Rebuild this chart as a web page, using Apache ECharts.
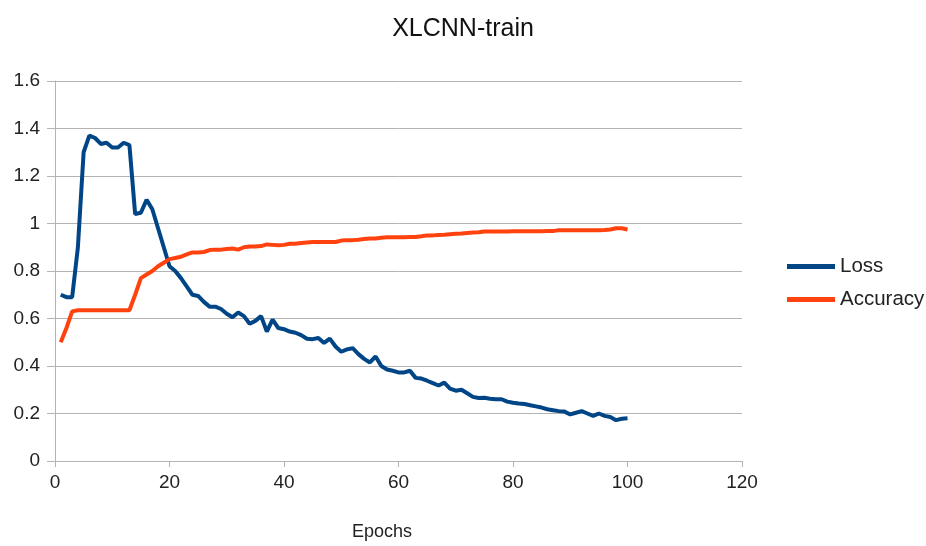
<!DOCTYPE html>
<html>
<head>
<meta charset="utf-8">
<script src="https://cdn.jsdelivr.net/npm/echarts@6/dist/echarts.min.js"></script>
<style>
  html, body { margin: 0; padding: 0; background: #fff; }
  #chart { width: 926px; height: 546px; }
</style>
</head>
<body>
<div id="chart"></div>
<script>
// epochs 1..100
const epochs = Array.from({ length: 100 }, (_, i) => i + 1);

const loss = [
  0.70, 0.69, 0.69, 0.90, 1.30, 1.37, 1.36, 1.335, 1.34, 1.32,
  1.32, 1.34, 1.33, 1.04, 1.045, 1.10, 1.06, 0.98, 0.90, 0.82,
  0.80, 0.77, 0.735, 0.70, 0.695, 0.67, 0.65, 0.65, 0.64, 0.62,
  0.605, 0.625, 0.61, 0.578, 0.59, 0.61, 0.545, 0.595, 0.56, 0.555,
  0.545, 0.54, 0.53, 0.515, 0.513, 0.518, 0.497, 0.515, 0.482, 0.46,
  0.47, 0.475, 0.45, 0.43, 0.415, 0.44, 0.40, 0.385, 0.38, 0.373,
  0.373, 0.38, 0.35, 0.347, 0.338, 0.328, 0.318, 0.33, 0.305, 0.296,
  0.30, 0.285, 0.27, 0.265, 0.266, 0.262, 0.26, 0.26, 0.25, 0.245,
  0.242, 0.24, 0.235, 0.23, 0.225, 0.218, 0.214, 0.21, 0.208, 0.196,
  0.203, 0.21, 0.20, 0.19, 0.20, 0.19, 0.185, 0.172, 0.178, 0.18
];

const accuracy = [
  0.50, 0.56, 0.63, 0.635, 0.635, 0.635, 0.635, 0.635, 0.635, 0.635,
  0.635, 0.635, 0.635, 0.70, 0.77, 0.785, 0.80, 0.82, 0.835, 0.85,
  0.855, 0.86, 0.87, 0.878, 0.878, 0.88, 0.888, 0.89, 0.89, 0.893,
  0.895, 0.89, 0.90, 0.903, 0.903, 0.905, 0.912, 0.91, 0.908, 0.91,
  0.915, 0.915, 0.918, 0.92, 0.922, 0.922, 0.922, 0.922, 0.922, 0.928,
  0.93, 0.93, 0.932, 0.935, 0.937, 0.937, 0.94, 0.942, 0.942, 0.942,
  0.942, 0.943, 0.943, 0.946, 0.95, 0.95, 0.952, 0.953, 0.955, 0.957,
  0.958, 0.96, 0.962, 0.963, 0.966, 0.966, 0.966, 0.966, 0.966, 0.967,
  0.967, 0.967, 0.967, 0.967, 0.967, 0.968, 0.968, 0.972, 0.972, 0.972,
  0.972, 0.972, 0.972, 0.972, 0.972, 0.973, 0.975, 0.98, 0.98, 0.975
];

const xTicks = { min: 0, max: 120, interval: 20 };
const yTicks = { min: 0, max: 1.6, interval: 0.2 };

const chart = echarts.init(document.getElementById('chart'));
const fontFamily = '"Liberation Sans", Arial, sans-serif';
const gridColor = '#b3b3b3';
const textColor = '#222';

chart.setOption({
  backgroundColor: '#fff',
  animation: false,
  textStyle: { fontFamily },
  title: {
    text: 'XLCNN-train',
    left: 'center',
    top: 12,
    textStyle: { fontSize: 25, fontWeight: 'normal', color: '#111', fontFamily }
  },
  graphic: [{
    type: 'text',
    left: 352,
    top: 523,
    style: { text: 'Epochs', fontSize: 18, fill: textColor, fontFamily }
  }],
  legend: {
    orient: 'vertical',
    left: 782,
    top: 251,
    itemWidth: 48,
    itemHeight: 5,
    itemGap: 12,
    icon: 'rect',
    textStyle: { fontSize: 20.5, color: textColor, fontFamily },
    data: ['Loss', 'Accuracy']
  },
  grid: { left: 55, right: 184, top: 81, bottom: 85 },
  xAxis: {
    type: 'value',
    min: xTicks.min,
    max: xTicks.max,
    interval: xTicks.interval,
    axisLine: { show: true, lineStyle: { color: gridColor } },
    axisTick: { show: true, length: 6, lineStyle: { color: gridColor } },
    axisLabel: { fontSize: 19, color: textColor, margin: 12 },
    splitLine: { show: false }
  },
  yAxis: {
    type: 'value',
    min: yTicks.min,
    max: yTicks.max,
    interval: yTicks.interval,
    axisLine: { show: true, lineStyle: { color: gridColor } },
    axisTick: { show: true, length: 8, lineStyle: { color: gridColor } },
    axisLabel: {
      fontSize: 19,
      color: textColor,
      margin: 15,
      formatter: v => String(Math.round(v * 10) / 10)
    },
    splitLine: { show: true, lineStyle: { color: gridColor, width: 1 } }
  },
  series: [
    {
      name: 'Loss',
      type: 'line',
      symbol: 'none',
      data: epochs.map((e, i) => [e, loss[i]]),
      lineStyle: { color: '#004586', width: 4 },
      itemStyle: { color: '#004586' }
    },
    {
      name: 'Accuracy',
      type: 'line',
      symbol: 'none',
      data: epochs.map((e, i) => [e, accuracy[i]]),
      lineStyle: { color: '#ff420e', width: 4 },
      itemStyle: { color: '#ff420e' }
    }
  ]
});
</script>
</body>
</html>
